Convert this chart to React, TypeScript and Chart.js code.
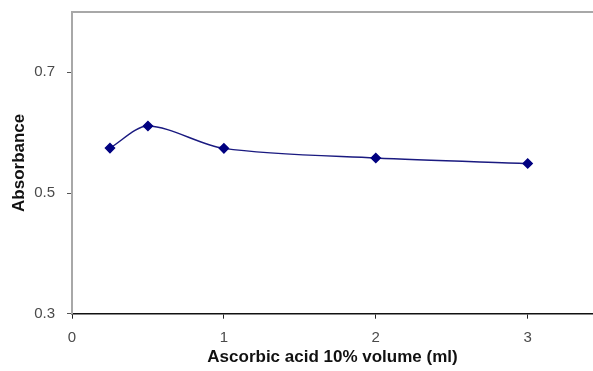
import React, { useEffect, useRef } from "react";
import { Chart, registerables } from "chart.js";

Chart.register(...registerables);

const volumes = [0.25, 0.5, 1, 2, 3];
const absorbance = [0.5745, 0.611, 0.574, 0.558, 0.549];
const xTicks = [0, 1, 2, 3];
const yTicks = [0.3, 0.5, 0.7];
const xTitle = "Ascorbic acid 10% volume (ml)";
const yTitle = "Absorbance";

const topBorder = {
  id: "topBorder",
  afterDraw(chart: any) {
    const { ctx, chartArea } = chart;
    ctx.save();
    ctx.strokeStyle = "#a8a8a8";
    ctx.lineWidth = 2;
    ctx.beginPath();
    ctx.moveTo(chartArea.left - 1, chartArea.top);
    ctx.lineTo(chartArea.right, chartArea.top);
    ctx.stroke();
    ctx.restore();
  },
};

export default function App() {
  const ref = useRef<HTMLCanvasElement>(null);
  useEffect(() => {
    if (!ref.current) return;
    const font = "'Liberation Sans', Arial, sans-serif";
    const chart = new Chart(ref.current, {
      type: "line",
      data: {
        datasets: [
          {
            data: volumes.map((v, i) => ({ x: v, y: absorbance[i] })),
            borderColor: "#1a1a80",
            backgroundColor: "#000080",
            borderWidth: 1.5,
            tension: 0.3,
            pointStyle: "rectRot",
            pointRadius: 4.5,
            pointBackgroundColor: "#000080",
            pointBorderColor: "#000080",
            fill: false,
          },
        ],
      },
      options: {
        responsive: false,
        animation: false,
        layout: { autoPadding: false, padding: { top: 12, right: 0, left: 0, bottom: 0 } },
        plugins: { legend: { display: false }, tooltip: { enabled: false } },
        scales: {
          x: {
            type: "linear",
            min: 0,
            max: 3.43,
            afterBuildTicks: (s: any) => {
              s.ticks = xTicks.map((v) => ({ value: v }));
            },
            afterFit: (s: any) => {
              s.height = 57.3;
              s.paddingRight = 0;
              s.paddingLeft = 0;
            },
            grid: { drawOnChartArea: false, drawTicks: true, tickLength: 5, tickColor: "#222", tickWidth: 1 },
            border: { color: "#111", width: 1.5 },
            ticks: {
              padding: 10,
              color: "#4a4a4a",
              font: { family: font, size: 15 },
              callback: (v: any) => String(v),
            },
            title: {
              display: true,
              text: xTitle,
              color: "#111",
              font: { family: font, size: 17, weight: "bold" },
              padding: { top: 0, bottom: 3 },
            },
          },
          y: {
            type: "linear",
            min: 0.3,
            max: 0.8,
            afterBuildTicks: (s: any) => {
              s.ticks = yTicks.map((v) => ({ value: v }));
            },
            afterFit: (s: any) => {
              s.width = 72;
              s.paddingTop = 0;
              s.paddingBottom = 0;
            },
            grid: { drawOnChartArea: false, drawTicks: true, tickLength: 5, tickColor: "#555", tickWidth: 1 },
            border: { color: "#a8a8a8", width: 2 },
            ticks: {
              padding: 12,
              color: "#4a4a4a",
              font: { family: font, size: 15 },
              callback: (v: any) => Number(v).toFixed(1),
            },
            title: {
              display: true,
              text: yTitle,
              color: "#111",
              font: { family: font, size: 17, weight: "bold" },
              padding: { top: 9, bottom: 0 },
            },
          },
        },
      },
      plugins: [topBorder],
    } as any);
    return () => chart.destroy();
  }, []);
  return (
    <div style={{ position: "absolute", left: 0, top: 0, width: 593, height: 371, background: "#fff" }}>
      <canvas ref={ref} width={593} height={371} style={{ display: "block" }} />
    </div>
  );
}
